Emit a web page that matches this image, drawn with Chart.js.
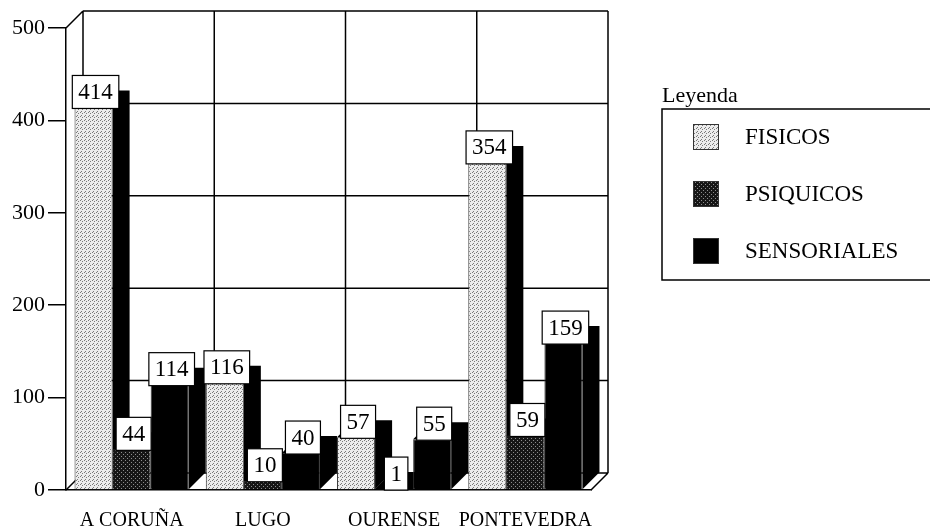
<!DOCTYPE html>
<html>
<head>
<meta charset="utf-8">
<script src="https://cdn.jsdelivr.net/npm/chart.js@4.4.0/dist/chart.umd.min.js"></script>
<style>
    html, body { margin: 0; padding: 0; background: #fff; }
</style>
</head>
<body>
<canvas id="myChart" width="930" height="532"></canvas>
<script>
// data
const provincias = ['A CORUÑA', 'LUGO', 'OURENSE', 'PONTEVEDRA']
const fisicos = [414, 116, 57, 354]
const psiquicos = [44, 10, 1, 59]
const sensoriales = [114, 40, 55, 159]
const seriesNames = ['FISICOS', 'PSIQUICOS', 'SENSORIALES']
const yTicks = [0, 100, 200, 300, 400, 500]
const legendTitle = 'Leyenda'

const DEPTH = 17
const SERIF = 'Liberation Serif'

const canvas = document.getElementById('myChart')
const ctx0 = canvas.getContext('2d')

// small stipple textures like the printed original
function makePattern(base, dot, dots) {
    const c = document.createElement('canvas')
    c.width = 4
    c.height = 4
    const g = c.getContext('2d')
    g.fillStyle = base
    g.fillRect(0, 0, 4, 4)
    g.fillStyle = dot
    dots.forEach(p => g.fillRect(p[0], p[1], 1, 1))
    return ctx0.createPattern(c, 'repeat')
}

const fillFisicos = makePattern('#ececec', '#7a7a7a', [[0, 0], [2, 1], [1, 3]])
const fillPsiquicos = makePattern('#161616', '#8c8c8c', [[1, 0], [3, 2]])
const fillSensoriales = '#000'

// back wall, floor and side faces of the bars
const box3d = {
    id: 'box3d',
    beforeDatasetsDraw(chart) {
        const ctx = chart.ctx
        const ca = chart.chartArea
        const xs = chart.scales.x
        const ys = chart.scales.y
        ctx.save()
        ctx.strokeStyle = '#000'
        ctx.lineWidth = 1.5
        ctx.beginPath()
        yTicks.forEach(v => {
            const py = ys.getPixelForValue(v) - DEPTH
            ctx.moveTo(ca.left + DEPTH, py)
            ctx.lineTo(ca.right + DEPTH, py)
        })
        for (let k = 0; k <= provincias.length; k++) {
            let px
            if (k === 0) px = ca.left
            else if (k === provincias.length) px = ca.right
            else px = (xs.getPixelForValue(k - 1) + xs.getPixelForValue(k)) / 2
            ctx.moveTo(px + DEPTH, ca.top - DEPTH)
            ctx.lineTo(px + DEPTH, ca.bottom - DEPTH)
        }
        ctx.moveTo(ca.left, ca.top)
        ctx.lineTo(ca.left + DEPTH, ca.top - DEPTH)
        ctx.moveTo(ca.left, ca.bottom)
        ctx.lineTo(ca.left + DEPTH, ca.bottom - DEPTH)
        ctx.moveTo(ca.right, ca.bottom)
        ctx.lineTo(ca.right + DEPTH, ca.bottom - DEPTH)
        ctx.stroke()

        // black top and side faces
        ctx.fillStyle = '#000'
        chart.data.datasets.forEach((ds, i) => {
            chart.getDatasetMeta(i).data.forEach(bar => {
                const l = bar.x - bar.width / 2
                const r = bar.x + bar.width / 2
                const t = bar.y
                const b = bar.base
                ctx.beginPath()
                ctx.moveTo(l, t)
                ctx.lineTo(l + DEPTH, t - DEPTH)
                ctx.lineTo(r + DEPTH, t - DEPTH)
                ctx.lineTo(r + DEPTH, b - DEPTH)
                ctx.lineTo(r, b)
                ctx.lineTo(r, t)
                ctx.closePath()
                ctx.fill()
            })
        })
        ctx.restore()
    },
    afterDatasetsDraw(chart) {
        const ctx = chart.ctx
        ctx.save()
        ctx.font = '23px "' + SERIF + '"'
        ctx.textAlign = 'center'
        ctx.textBaseline = 'middle'
        ctx.lineWidth = 1.2
        ctx.strokeStyle = '#000'
        chart.data.datasets.forEach((ds, i) => {
            chart.getDatasetMeta(i).data.forEach((bar, j) => {
                const txt = String(ds.data[j])
                const w = ctx.measureText(txt).width + 12
                const h = 33
                const cx = bar.x + 2
                const bottom = bar.y + 1
                ctx.fillStyle = '#fff'
                ctx.fillRect(cx - w / 2, bottom - h, w, h)
                ctx.strokeRect(cx - w / 2, bottom - h, w, h)
                ctx.fillStyle = '#000'
                ctx.fillText(txt, cx, bottom - h / 2 + 1)
            })
        })
        ctx.restore()
    },
    afterDraw(chart) {
        // framed legend on the right
        const ctx = chart.ctx
        const left = 662, top = 109, bottom = 280
        ctx.save()
        ctx.strokeStyle = '#000'
        ctx.lineWidth = 1.5
        ctx.beginPath()
        ctx.moveTo(940, top)
        ctx.lineTo(left, top)
        ctx.lineTo(left, bottom)
        ctx.lineTo(940, bottom)
        ctx.stroke()
        ctx.fillStyle = '#000'
        ctx.font = '22px "' + SERIF + '"'
        ctx.textAlign = 'left'
        ctx.textBaseline = 'alphabetic'
        ctx.fillText(legendTitle, left, 102)
        ctx.font = '23px "' + SERIF + '"'
        ctx.textBaseline = 'middle'
        chart.data.datasets.forEach((ds, i) => {
            const cy = 137 + i * 57
            ctx.fillStyle = ds.backgroundColor
            ctx.fillRect(693, cy - 13, 26, 26)
            ctx.lineWidth = 1
            ctx.strokeStyle = '#333'
            ctx.strokeRect(693.5, cy - 12.5, 25, 25)
            ctx.fillStyle = '#000'
            ctx.fillText(ds.label, 745, cy + 1)
        })
        ctx.restore()
    }
}

const data = {
    labels: provincias,
    datasets: [
        { label: seriesNames[0], data: fisicos, backgroundColor: fillFisicos },
        { label: seriesNames[1], data: psiquicos, backgroundColor: fillPsiquicos },
        { label: seriesNames[2], data: sensoriales, backgroundColor: fillSensoriales }
    ]
}

const config = {
    type: 'bar',
    data: data,
    options: {
        responsive: false,
        animation: false,
        datasets: {
            bar: {
                categoryPercentage: 0.87,
                barPercentage: 1,
                borderWidth: 1,
                borderColor: '#333'
            }
        },
        layout: {
            padding: { top: 28, right: 339, left: 0, bottom: 0 }
        },
        scales: {
            x: {
                grid: { display: false, drawTicks: false },
                border: { display: true, color: '#000', width: 1.5 },
                ticks: {
                    color: '#000',
                    padding: 19,
                    maxRotation: 0,
                    autoSkip: false,
                    font: { family: SERIF, size: 20 }
                },
                afterFit: s => { s.height = 42 }
            },
            y: {
                min: 0,
                max: 500,
                afterBuildTicks: s => { s.ticks = yTicks.map(v => ({ value: v })) },
                ticks: {
                    color: '#000',
                    padding: 3,
                    font: { family: SERIF, size: 22 }
                },
                grid: { drawOnChartArea: false, tickLength: 18, color: '#000', lineWidth: 1.5 },
                border: { display: true, color: '#000', width: 1.5 },
                afterFit: s => { s.width = 66 }
            }
        },
        plugins: {
            legend: { display: false },
            tooltip: { enabled: false }
        }
    },
    plugins: [box3d]
}

const myChart = new Chart(canvas, config)
</script>
</body>
</html>
